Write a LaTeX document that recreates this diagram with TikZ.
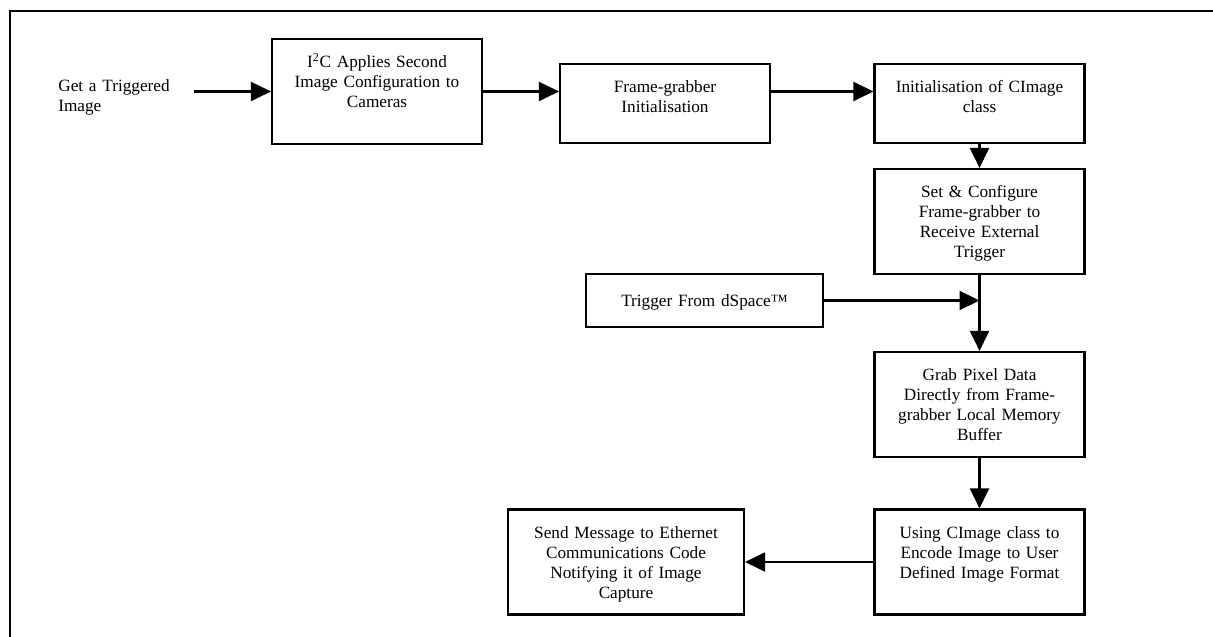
\documentclass[tikz,border=0pt]{standalone}
\usepackage{fontspec}
\setmainfont{Liberation Serif}
\usepackage{tikz}
\usetikzlibrary{arrows.meta, positioning}

\begin{document}
\begin{tikzpicture}[
    font=\fontsize{9.8}{11.4}\selectfont,
    stage/.style={
        rectangle, draw=black, line width=1.2pt,
        align=center, inner xsep=0.12cm, inner ysep=0pt,
        text width=3.96cm, text height=0.57cm, text depth=1.53cm
    },
    shortstage/.style={stage, text depth=1.01cm},
    trigbox/.style={stage, text width=4.5cm, text height=0.65cm, text depth=0.41cm},
    arrow/.style={-{Triangle[length=0.4cm, width=0.38cm]}, line width=1.2pt},
]

\useasboundingbox (0,0) rectangle (24.26,-12.74);

% Rahmen (nur oben und links)
\draw[line width=1.2pt] (0.2,-12.74) -- (0.2,-0.22) -- (24.26,-0.22);

% Start
\node[anchor=west, align=left, inner sep=0pt, text width=2.7cm] (getimg) at (1.16,-1.94)
    {Get a Triggered\\Image};

% Obere Reihe
\node[stage] (i2c) at (7.54,-1.83)
    {I\textsuperscript{2}C Applies Second\\Image Configuration to\\Cameras};
\node[shortstage] (grabinit) at (13.30,-2.07)
    {Frame-grabber\\Initialisation};
\node[shortstage] (cinit) at (19.59,-2.07)
    {Initialisation of CImage\\class};

% Rechte Spalte
\node[stage] (setcfg) at (19.59,-4.43)
    {Set \& Configure\\Frame-grabber to\\Receive External\\Trigger};
\node[trigbox] (trig) at (14.09,-6.01)
    {Trigger From dSpace™};
\node[stage] (grab) at (19.59,-8.09)
    {Grab Pixel Data\\Directly from Frame-\\grabber Local Memory\\Buffer};
\node[stage] (encode) at (19.59,-11.24)
    {Using CImage class to\\Encode Image to User\\Defined Image Format};
\node[stage, text width=4.48cm] (send) at (12.52,-11.24)
    {Send Message to Ethernet\\Communications Code\\Notifying it of Image\\Capture};

% Pfeile
\draw[arrow] (getimg.east |- i2c.west) -- (i2c.west);
\draw[arrow] (i2c.east) -- (i2c.east -| grabinit.west);
\draw[arrow] (i2c.east -| grabinit.east) -- (i2c.east -| cinit.west);
\draw[arrow] (cinit.south) -- (setcfg.north);
\draw[arrow] (trig.east) -- (trig.east -| setcfg.south);
\draw[arrow] (setcfg.south) -- (grab.north);
\draw[arrow] (grab.south) -- (encode.north);
\draw[arrow] (encode.west) -- (send.east);

\end{tikzpicture}
\end{document}
